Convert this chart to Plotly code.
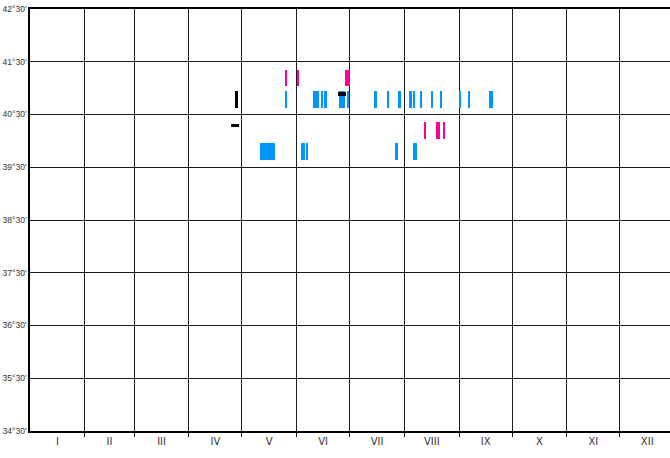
import plotly.graph_objects as go

# Month labels and month boundaries (day of year)
month_labels = ["I", "II", "III", "IV", "V", "VI", "VII", "VIII", "IX", "X", "XI", "XII"]
month_starts = [0, 31, 59, 90, 120, 151, 181, 212, 243, 273, 304, 334, 365]

# Latitude tick values/labels
lat_ticks = [34.5, 35.5, 36.5, 37.5, 38.5, 39.5, 40.5, 41.5, 42.5]
lat_labels = ["34°30'", "35°30'", "36°30'", "37°30'", "38°30'", "39°30'", "40°30'", "41°30'", "42°30'"]

# Observation periods: start day, end day, latitude bottom, latitude top
pink_start = [144.4, 151.4, 178.4, 223.1, 229.9, 233.7]
pink_end = [145.5, 152.3, 181.2, 224.2, 232.2, 235.0]
pink_lat_lo = [41.04, 41.04, 41.04, 40.04, 40.04, 40.04]
pink_lat_hi = [41.34, 41.34, 41.34, 40.35, 40.35, 40.35]

blue_start = [144.4, 160.2, 165.2, 167.0, 175.0, 179.3, 195.0, 202.2, 208.9, 215.0, 216.9,
              221.0, 227.1, 232.2, 242.9, 248.2, 259.9,
              130.2, 153.5, 156.3, 207.2, 216.7]
blue_end = [145.5, 163.6, 166.1, 168.0, 178.4, 180.6, 196.3, 203.1, 209.9, 216.1, 218.0,
            222.1, 228.2, 233.3, 244.2, 249.2, 262.2,
            138.7, 155.7, 157.0, 208.2, 219.1]
blue_lat_lo = [40.63] * 17 + [39.63] * 5
blue_lat_hi = [40.95] * 17 + [39.96] * 5

black_start = [116.5, 113.8, 174.2]
black_end = [117.6, 118.3, 178.8]
black_lat_lo = [40.63, 40.26, 40.86]
black_lat_hi = [40.95, 40.32, 40.93]

BLUE = "#0096ff"
PINK = "#ff0090"
BLACK = "#000000"
GRID = "#1a1a1a"


def bar_trace(starts, ends, lo, hi, color):
    return go.Bar(
        orientation="h",
        base=starts,
        x=[e - s for s, e in zip(starts, ends)],
        y=[(a + b) / 2 for a, b in zip(lo, hi)],
        width=[b - a for a, b in zip(lo, hi)],
        marker=dict(color=color, line=dict(width=0)),
        showlegend=False,
        hoverinfo="skip",
    )


fig = go.Figure()
fig.add_trace(bar_trace(blue_start, blue_end, blue_lat_lo, blue_lat_hi, BLUE))
fig.add_trace(bar_trace(pink_start, pink_end, pink_lat_lo, pink_lat_hi, PINK))
fig.add_trace(bar_trace(black_start, black_end, black_lat_lo, black_lat_hi, BLACK))

mids = [(month_starts[i] + month_starts[i + 1]) / 2 for i in range(12)]

fig.update_layout(
    width=670,
    height=458,
    margin=dict(l=30, r=0, t=9, b=27, autoexpand=False),
    paper_bgcolor="white",
    plot_bgcolor="white",
    barmode="overlay",
    bargap=0,
    font=dict(family="DejaVu Sans", size=9, color="#333333"),
    xaxis=dict(
        range=[0, 362.4],
        automargin=False,
        tickmode="array",
        tickvals=mids,
        ticktext=month_labels,
        ticks="",
        showgrid=False,
        zeroline=False,
        showline=True,
        linecolor=BLACK,
        linewidth=1.5,
        mirror=True,
        tickfont=dict(size=10, color="#333333"),
        minor=dict(
            tickmode="array",
            tickvals=month_starts[1:12],
            showgrid=True,
            gridcolor=GRID,
            gridwidth=1,
            ticks="outside",
            ticklen=4,
            tickcolor=GRID,
        ),
        fixedrange=True,
    ),
    yaxis=dict(
        range=[34.5, 42.5],
        automargin=False,
        tickmode="array",
        tickvals=lat_ticks,
        ticktext=lat_labels,
        ticks="",
        showgrid=True,
        gridcolor=GRID,
        gridwidth=1,
        zeroline=False,
        showline=True,
        linecolor=BLACK,
        linewidth=1.5,
        tickfont=dict(family="Liberation Sans", size=8.5, color="#333333"),
        fixedrange=True,
    ),
)

fig.write_html(
    "out.html",
    config={"displayModeBar": False},
    post_script="document.body.style.margin='0';document.body.style.padding='0';",
)
